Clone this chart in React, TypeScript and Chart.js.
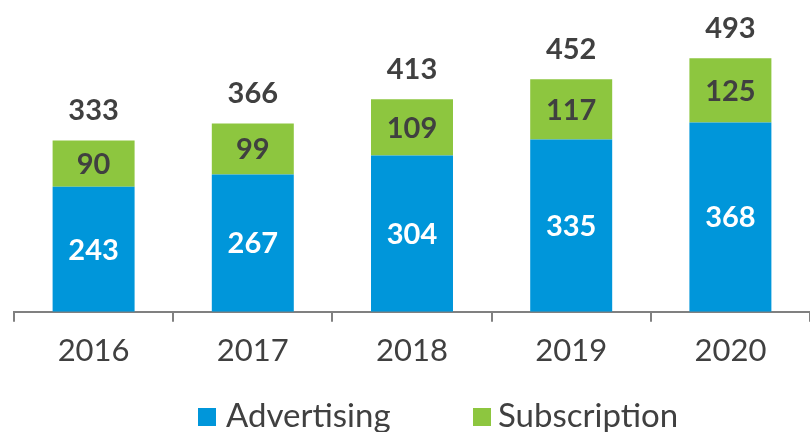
import React, { useEffect, useRef } from "react";
import { Chart, registerables } from "chart.js";

Chart.register(...registerables);

const years = ["2016", "2017", "2018", "2019", "2020"];
const advertising = [243, 267, 304, 335, 368];
const subscription = [90, 99, 109, 117, 125];
const totals = [333, 366, 413, 452, 493];
const seriesNames = ["Advertising", "Subscription"];

const BLUE = "#0096DA";
const GREEN = "#8DC63F";
const DARK = "#404040";
const FONT = "Lato";

const labelPlugin = {
  id: "labels",
  afterDatasetsDraw(chart: any) {
    const ctx = chart.ctx;
    ctx.save();
    ctx.textAlign = "center";
    ctx.textBaseline = "middle";
    ctx.font = `bold 29px ${FONT}`;
    chart.data.datasets.forEach((ds: any, di: number) => {
      const meta = chart.getDatasetMeta(di);
      meta.data.forEach((bar: any, i: number) => {
        const { x, y, base } = bar.getProps(["x", "y", "base"], true);
        ctx.fillStyle = di === 0 ? "#FFFFFF" : DARK;
        ctx.fillText(String(ds.data[i]), x, (y + base) / 2 + 1);
      });
    });
    const top = chart.getDatasetMeta(1);
    top.data.forEach((bar: any, i: number) => {
      const { x, y } = bar.getProps(["x", "y"], true);
      ctx.fillStyle = DARK;
      ctx.fillText(String(totals[i]), x, y - 30);
    });
    // legend
    const items = [
      { color: BLUE, boxX: 198, textX: 226 },
      { color: GREEN, boxX: 473, textX: 498 },
    ];
    ctx.textAlign = "left";
    ctx.font = `33px ${FONT}`;
    items.forEach((it, i) => {
      ctx.fillStyle = chart.data.datasets[i].backgroundColor;
      ctx.fillRect(it.boxX, 408, 18, 18);
      ctx.fillStyle = DARK;
      ctx.fillText(seriesNames[i], it.textX, 416);
    });
    ctx.restore();
  },
};

export default function App() {
  const ref = useRef<HTMLCanvasElement>(null);
  useEffect(() => {
    const chart = new Chart(ref.current!, {
      type: "bar",
      data: {
        labels: years,
        datasets: [
          {
            label: seriesNames[0],
            data: advertising,
            backgroundColor: BLUE,
            categoryPercentage: 1,
            barPercentage: 0.515,
          },
          {
            label: seriesNames[1],
            data: subscription,
            backgroundColor: GREEN,
            categoryPercentage: 1,
            barPercentage: 0.515,
          },
        ],
      },
      options: {
        animation: false,
        responsive: false,
        layout: { padding: { left: 14, right: 0, top: 0, bottom: 51 } },
        scales: {
          x: {
            stacked: true,
            grid: {
              offset: true,
              drawOnChartArea: false,
              drawTicks: true,
              tickLength: 10,
              color: "#808080",
              lineWidth: 2,
            },
            border: { display: true, color: "#808080", width: 2 },
            ticks: {
              color: DARK,
              font: { family: FONT, size: 31 },
              padding: 11,
            },
          },
          y: {
            stacked: true,
            display: false,
            min: 0,
            max: 606,
          },
        },
        plugins: {
          legend: { display: false },
          tooltip: { enabled: false },
        },
      },
      plugins: [labelPlugin],
    });
    return () => chart.destroy();
  }, []);
  return (
    <div style={{ position: "absolute", left: 0, top: 0, width: 810, height: 432 }}>
      <canvas ref={ref} width={810} height={432} />
    </div>
  );
}
